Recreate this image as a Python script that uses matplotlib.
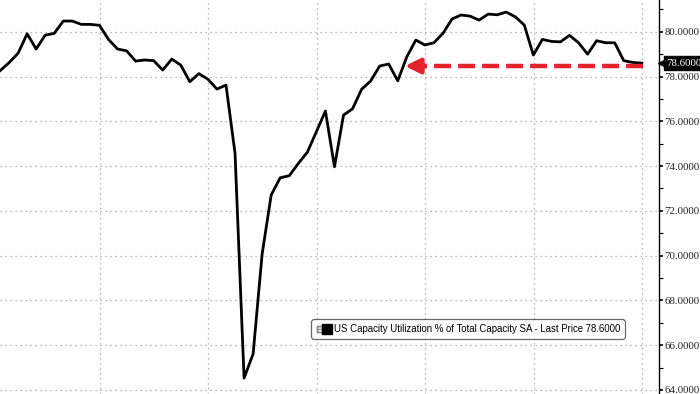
import matplotlib
matplotlib.use('Agg')
from matplotlib import pyplot as plt
from matplotlib.lines import Line2D
from matplotlib.legend_handler import HandlerTuple
from matplotlib.ticker import FormatStrFormatter, FixedLocator
import numpy as np

# monthly capacity utilization
util = [78.26, 78.62, 79.04, 79.91, 79.23, 79.85, 79.93, 80.48, 80.48, 80.33,
        80.33, 80.29, 79.66, 79.23, 79.15, 78.69, 78.74, 78.71, 78.29, 78.78,
        78.51, 77.77, 78.13, 77.88, 77.44, 77.62, 74.57, 64.53, 65.61, 70.08,
        72.71, 73.48, 73.57, 74.12, 74.62, 75.54, 76.46, 73.97, 76.28, 76.56,
        77.43, 77.80, 78.47, 78.56, 77.81, 78.88, 79.63, 79.41, 79.51, 79.93,
        80.57, 80.75, 80.70, 80.52, 80.79, 80.76, 80.88, 80.67, 80.30, 78.96,
        79.66, 79.57, 79.55, 79.84, 79.51, 79.00, 79.60, 79.51, 79.51, 78.71,
        78.63, 78.60]
last_price = 78.60
arrow_level = 78.47
arrow_from = 71.1
arrow_to = 44.8
year_lines = [11.06, 23.06, 35.06, 47.06, 59.06, 71.06]
y_ticks = [64, 66, 68, 70, 72, 74, 76, 78, 80]
y_minor = [65, 67, 69, 71, 73, 75, 77, 79, 81]
legend_text = 'US Capacity Utilization % of Total Capacity SA - Last Price 78.6000'

red = '#e3232b'
grid_kw = dict(color='#a0a0a0', linestyle=(0, (1, 3)), linewidth=0.9)
tick_font = dict(family='Liberation Serif', size=7.8)

fig = plt.figure(figsize=(7, 3.94), dpi=100)
ax = fig.add_axes([0, 0, 659 / 700, 1])

months = np.arange(len(util))
ax.plot(months, util, color='black', linewidth=2.0, zorder=3)

ax.set_xlim(0, 72.9)
ax.set_ylim(63.82, 81.42)

# grid
ax.set_xticks(year_lines)
ax.set_yticks(y_ticks)
ax.yaxis.set_minor_locator(FixedLocator(y_minor))
ax.grid(True, **grid_kw)

for s in ['left', 'top', 'bottom']:
  ax.spines[s].set_visible(False)
ax.spines['right'].set_linewidth(1.0)
ax.yaxis.tick_right()
ax.yaxis.set_major_formatter(FormatStrFormatter('%.4f'))
ax.tick_params(axis='x', length=0, labelbottom=False)
ax.tick_params(axis='y', which='major', direction='out', length=3, width=1.2, pad=1)
ax.tick_params(axis='y', which='minor', direction='out', length=3, width=0.8)
for lbl in ax.get_yticklabels():
  lbl.set_fontfamily(tick_font['family'])
  lbl.set_fontsize(tick_font['size'])
  lbl.set_color('#222222')

# last price tag
tag_tr = ax.get_yaxis_transform()
ax.plot([1.004], [last_price], marker='<', color='black', markersize=6,
        transform=tag_tr, clip_on=False, zorder=5)
ax.text(1.011, last_price, f'{last_price:.4f}', transform=tag_tr, color='white',
        va='center', ha='left', zorder=6, **tick_font,
        bbox=dict(boxstyle='square,pad=0.2', fc='black', ec='black'))

# red dashed arrow
ax.plot([arrow_from, arrow_to + 1.7], [arrow_level, arrow_level], color=red,
        linewidth=3.2, linestyle=(0, (3.8, 1.6)), zorder=4, solid_capstyle='butt')
ax.annotate('', xy=(arrow_to, arrow_level), xytext=(arrow_to + 2.2, arrow_level),
            arrowprops=dict(arrowstyle='-|>,head_length=0.9,head_width=0.45',
                            color=red, lw=3.2, shrinkA=0, shrinkB=0), zorder=4)

# legend
icon = Line2D([], [], marker=r'$\boxminus$', color='#8a8a8a', linestyle='none',
              markersize=5)
square = Line2D([], [], marker='s', color='black', linestyle='none', markersize=7)
leg = ax.legend([(icon, square)], [legend_text], loc='lower left',
                bbox_to_anchor=(0.472, 0.139), borderaxespad=0,
                frameon=True, fancybox=True,
                handler_map={tuple: HandlerTuple(ndivide=None, pad=0.15)},
                handlelength=1.5, handletextpad=0.3, borderpad=0.55,
                prop=dict(family='Liberation Sans', size=6.9))
leg.get_frame().set_edgecolor('#444444')
leg.get_frame().set_linewidth(0.9)
leg.get_frame().set_boxstyle('round,pad=0,rounding_size=0.3')

fig.savefig('out.png', dpi=100)
